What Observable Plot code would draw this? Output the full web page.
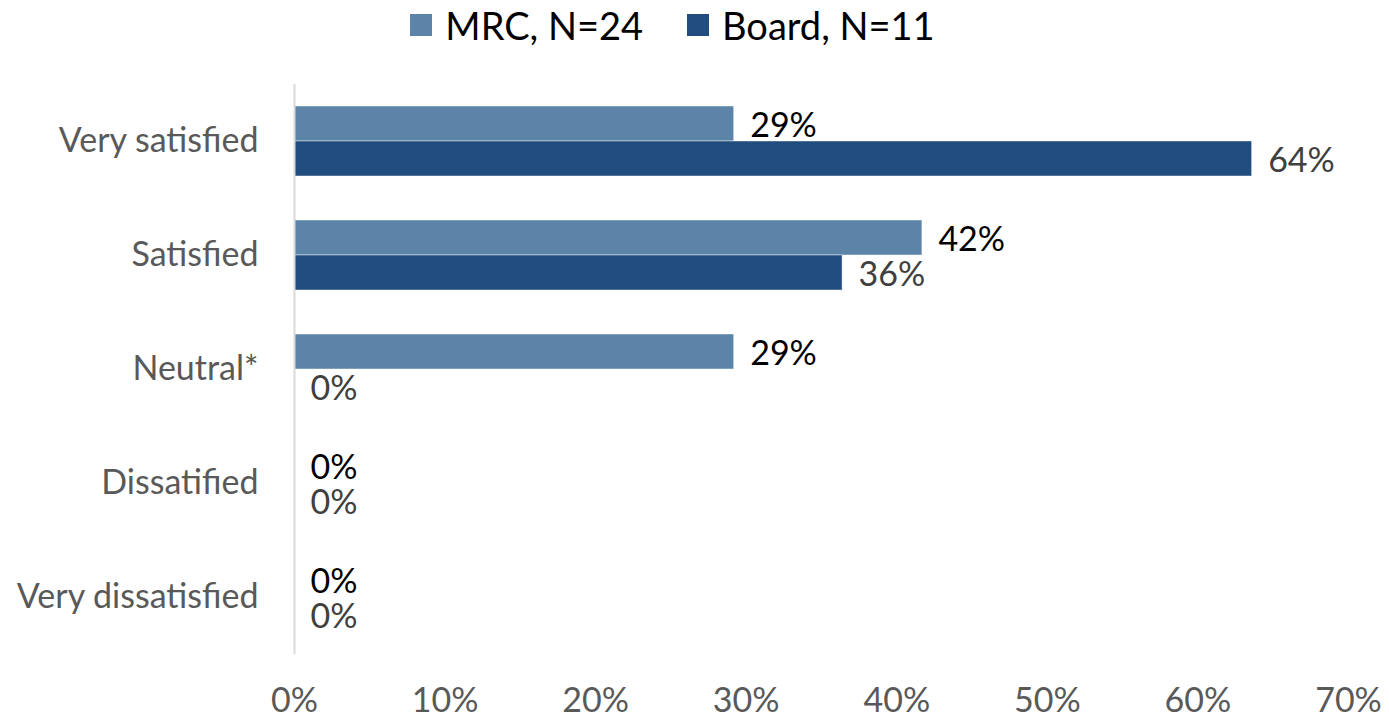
<!DOCTYPE html>
<html><head><meta charset="utf-8">
<script src="https://cdn.jsdelivr.net/npm/d3@7"></script>
<script src="https://cdn.jsdelivr.net/npm/@observablehq/plot@0.6"></script>
<style>
body{margin:0;background:#fff;font-family:Lato,sans-serif}
#legend{height:60px;display:flex;justify-content:center;align-items:center;padding-right:44px;padding-bottom:10px;box-sizing:border-box}
.item{display:flex;align-items:center;font-size:38px;color:#000;margin:0 22px}
.sw{width:22px;height:22px;margin-right:13px}
</style></head><body>
<div id="legend"></div><div id="chart"></div>
<script>
const categories = ["Very satisfied","Satisfied","Neutral*","Dissatified","Very dissatisfied"];
const seriesKeys = ["MRC","Board"];
const seriesNames = ["MRC, N=24","Board, N=11"];
const mrcValues = [29.2, 41.7, 29.2, 0, 0];
const boardValues = [63.6, 36.4, 0, 0, 0];
const xTicks = [0,10,20,30,40,50,60,70];
const colors = ["#5b84a8","#214c7e"];

const legend = document.getElementById("legend");
seriesNames.forEach((n,i)=>{
  const it = document.createElement("div"); it.className="item";
  const sw = document.createElement("div"); sw.className="sw"; sw.style.background=colors[i];
  const t = document.createElement("span"); t.textContent=n;
  it.appendChild(sw); it.appendChild(t); legend.appendChild(it);
});

const data = categories.flatMap((c,i)=>[
  {cat:c, s:"MRC", v:mrcValues[i]},
  {cat:c, s:"Board", v:boardValues[i]}
]);
const pct = d => Math.round(d.v) + "%";
const FS = 34;

const chart = Plot.plot({
  width:1389, height:657,
  marginLeft:294, marginRight:41, marginTop:23, marginBottom:62,
  style:{fontFamily:"Lato, sans-serif", fontSize:FS+"px", color:"#595959", background:"#fff", overflow:"visible"},
  x:{domain:[0,70], axis:null},
  fy:{domain:categories, padding:0, axis:null},
  y:{domain:seriesKeys, paddingInner:0, paddingOuter:0.606, axis:null},
  color:{domain:seriesKeys, range:colors},
  marks:[
    Plot.barX(data.filter(d=>d.v>0),{x:"v", y:"s", fy:"cat", fill:"s", stroke:"#ffffff", strokeOpacity:0.45, strokeWidth:1}),
    Plot.ruleX([0],{stroke:"#d9d9d9", strokeWidth:2}),
    Plot.text(data.filter(d=>d.s==="MRC"),{x:"v", y:"s", fy:"cat", text:pct, textAnchor:"start", dx:16, dy:2, fill:"#000000", fontSize:FS}),
    Plot.text(data.filter(d=>d.s==="Board"),{x:"v", y:"s", fy:"cat", text:pct, textAnchor:"start", dx:16, dy:2, fill:"#404040", fontSize:FS}),
    Plot.axisX({ticks:xTicks, tickFormat:d=>d+"%", tickSize:0, tickPadding:33, fontSize:FS, fill:"#595959", label:null}),
    Plot.axisFy({domain:categories, anchor:"left", tickSize:0, tickPadding:36, fontSize:FS, fill:"#595959", label:null})
  ]
});
document.getElementById("chart").appendChild(chart);
</script>
</body></html>
